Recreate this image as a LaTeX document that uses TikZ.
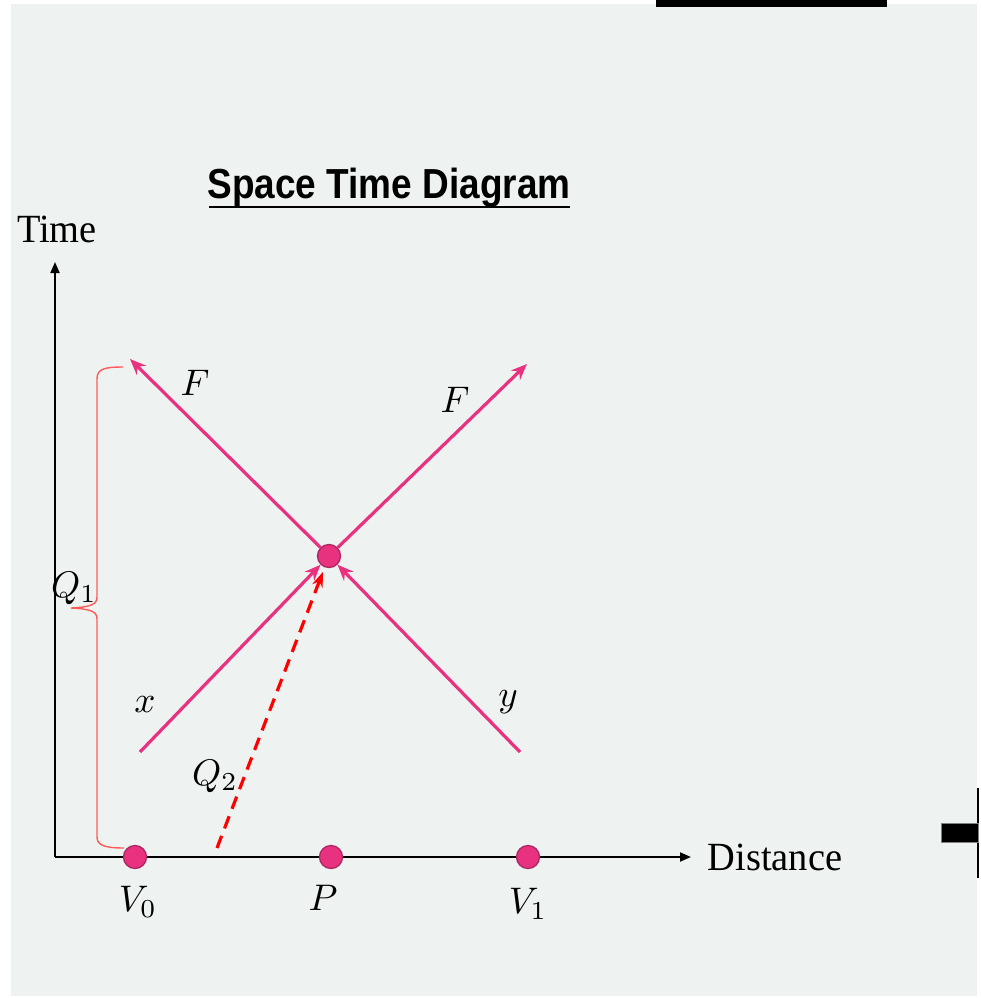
\documentclass[tikz,border=0pt]{standalone}
\usepackage{fontspec}
\setmainfont{Liberation Serif}
\newfontfamily\titlefont{Liberation Sans}
\usetikzlibrary{arrows.meta}
\definecolor{bgc}{RGB}{238,242,241}
\definecolor{lpink}{RGB}{232,50,128}
\definecolor{dotborder}{RGB}{172,38,98}
\definecolor{bracec}{RGB}{255,90,90}
\begin{document}
\begin{tikzpicture}[x=1pt,y=-1pt,
  axisline/.style={draw=black,line width=2pt,-{Triangle[length=11pt,width=9pt]}},
  pinkarrow/.style={draw=lpink,line width=3.2pt,-{Stealth[length=16pt,width=13pt]}},
  dashedarrow/.style={draw=red,line width=3.2pt,dash pattern=on 13pt off 8pt,-{Stealth[length=15pt,width=11pt]}},
  dot/.style={circle,minimum size=23pt,inner sep=0pt,fill=lpink,draw=dotborder,line width=1.3pt},
  mathlabel/.style={inner sep=0pt,scale=3.7},
  axislabel/.style={inner sep=0pt,font=\fontsize{40}{44}\selectfont}]
\useasboundingbox (0,0) rectangle (980,998);
\fill[bgc] (11,4) rectangle (977,996);
\fill[black] (656,0) rectangle (887,7);
% cross at the right edge
\fill[black] (976.5,788) rectangle (979,878);
\filldraw[fill=black,draw=gray,line width=0.8pt] (941,823) rectangle (978,842);
% title
\node[inner sep=0pt] (title) at (389,188) {\scalebox{0.88}[1]{\titlefont\bfseries\fontsize{42}{46}\selectfont Space Time Diagram}};
\draw[black,line width=2.6pt] (209,207) -- (570,207);
% axes
\coordinate (o) at (55,857);
\coordinate (tt) at (55,262);
\coordinate (dd) at (691,857);
\draw[axisline] (o) -- (tt);
\draw[axisline] (o) -- (dd);
\node[axislabel] (time) at (57,229) {\scalebox{0.96}[1]{Time}};
\node[axislabel] (dist) at (775,857) {\scalebox{0.96}[1]{Distance}};
% brace
\draw[bracec,line width=1.4pt] (123,367) .. controls (104,367) and (97,369) .. (97,379) -- (97,597) .. controls (97,604) and (92,607) .. (71,608) .. controls (92,609) and (97,612) .. (97,619) -- (97,837) .. controls (97,845) and (104,848) .. (124,848);
% dots
\node[dot] (v0) at (135,857) {};
\node[dot] (p) at (331,857) {};
\node[dot] (v1) at (528,857) {};
\node[dot] (c) at (329,556) {};
% world lines
\coordinate (xs) at (140,752);
\coordinate (ys) at (520,752);
\coordinate (fl) at (130,359);
\coordinate (fr) at (527,364);
\coordinate (qs) at (217,848);
\draw[pinkarrow] (xs) -- (c);
\draw[pinkarrow] (ys) -- (c);
\draw[pinkarrow] (c) -- (fl);
\draw[pinkarrow] (c) -- (fr);
\draw[dashedarrow,shorten >=5pt] (qs) -- (c);
% labels
\node[mathlabel] (lf1) at (195,383) {$F$};
\node[mathlabel] (lf2) at (455,400) {$F$};
\node[mathlabel] (lx) at (145,705) {$x$};
\node[mathlabel] (ly) at (508,702) {$y$};
\node[mathlabel] (lq1) at (74,588) {$Q_1$};
\node[mathlabel] (lq2) at (215,776) {$Q_2$};
\node[mathlabel] (lv0) at (138,902) {$V_0$};
\node[mathlabel] (lp) at (323,898) {$P$};
\node[mathlabel] (lv1) at (528,904) {$V_1$};
\end{tikzpicture}
\end{document}
